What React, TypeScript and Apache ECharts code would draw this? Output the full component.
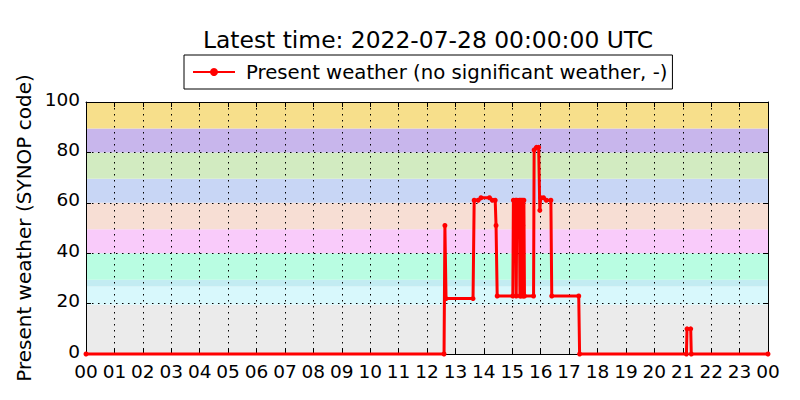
import React, { useEffect, useRef } from "react";
import * as echarts from "echarts";

const TITLE = "Latest time: 2022-07-28 00:00:00 UTC";
const SERIES_NAME = "Present weather (no significant weather, -)";
const Y_NAME = "Present weather (SYNOP code)";

// [hour of day, SYNOP present weather code]
const hours = [
  0, 12.6, 12.63, 12.67, 13.62, 13.66, 13.8, 13.9, 14.2, 14.3, 14.4, 14.43, 14.47,
  15.02, 15.04, 15.12, 15.14, 15.16, 15.25, 15.27, 15.3, 15.32, 15.35, 15.37, 15.39,
  15.41, 15.43, 15.75, 15.77, 15.85, 15.93, 15.97, 16.0, 16.1, 16.2, 16.36, 16.39,
  17.34, 17.37, 21.13, 21.15, 21.28, 21.3, 24,
];
const codes = [
  0, 0, 51, 22, 22, 61, 61, 62, 62, 61, 61, 51, 23,
  23, 61, 61, 23, 61, 61, 23, 61, 23, 61, 51, 23,
  61, 23, 23, 81, 82, 82, 57, 62, 62, 61, 61, 23,
  23, 0, 0, 10, 10, 0, 0,
];

const bandEdges = [0, 19.5, 26.8, 29.5, 40, 49.5, 60, 69.5, 80, 89.5, 100];
const bandColors = [
  "#ebebeb", "#d8f8fc", "#c3ecf2", "#b9fde2", "#f9cbfa",
  "#f7ded4", "#c8d6f5", "#d2ebc1", "#c8b6ec", "#f7df8b",
];

const FONT = "DejaVu Sans";

export default function App() {
  const ref = useRef<HTMLDivElement>(null);
  useEffect(() => {
    document.body.style.margin = "0";
    const chart = echarts.init(ref.current!, null, { renderer: "svg" });
    const data = hours.map((h, i) => [h, codes[i]]);
    const bands = bandColors.map((c, i) => [
      { yAxis: bandEdges[i], itemStyle: { color: c, opacity: 1 } },
      { yAxis: bandEdges[i + 1] },
    ]);
    const fmt = (v: number) => String(Math.round(v) % 24).padStart(2, "0");
    const tickStyle = { show: true, inside: true, length: 5, lineStyle: { color: "#000" } };
    const grid = { type: [1.5, 4.5], color: "#000", width: 1 };
    chart.setOption({
      animation: false,
      textStyle: { fontFamily: FONT },
      title: {
        text: TITLE,
        left: 423,
        textAlign: "center",
        top: 23,
        textStyle: { fontFamily: FONT, fontSize: 23.4, fontWeight: "normal", color: "#000" },
      },
      legend: {
        data: [SERIES_NAME],
        top: 55,
        left: 184,
        itemWidth: 42,
        itemHeight: 10,
        padding: [7, 5, 7, 8],
        borderColor: "#000",
        borderWidth: 1,
        borderRadius: 0,
        textStyle: { fontFamily: FONT, fontSize: 19.7, color: "#000", padding: [0, 0, 0, 6] },
      },
      grid: { left: 86, right: 32, top: 102, bottom: 46, containLabel: false },
      xAxis: [
        {
          type: "value",
          min: 0,
          max: 24,
          interval: 1,
          axisLine: { show: true, onZero: false, lineStyle: { color: "#000", width: 1 } },
          axisTick: tickStyle,
          axisLabel: {
            formatter: fmt,
            fontFamily: FONT,
            fontSize: 18.5,
            lineHeight: 18,
            color: "#000",
            margin: 8,
          },
          splitLine: { show: true, lineStyle: grid },
        },
        {
          type: "value",
          position: "top",
          min: 0,
          max: 24,
          interval: 1,
          axisLine: { show: true, onZero: false, lineStyle: { color: "#000", width: 1 } },
          axisTick: tickStyle,
          axisLabel: { show: false },
          splitLine: { show: false },
        },
      ],
      yAxis: [
        {
          type: "value",
          min: 0,
          max: 100,
          interval: 20,
          name: Y_NAME,
          nameLocation: "middle",
          nameGap: 46,
          nameTextStyle: { fontFamily: FONT, fontSize: 20, color: "#000" },
          axisLine: { show: true, onZero: false, lineStyle: { color: "#000", width: 1 } },
          axisTick: tickStyle,
          axisLabel: {
            fontFamily: FONT,
            fontSize: 18.5,
            verticalAlign: "bottom",
            lineHeight: 6,
            color: "#000",
            margin: 6,
          },
          splitLine: { show: true, lineStyle: grid },
        },
        {
          type: "value",
          position: "right",
          min: 0,
          max: 100,
          interval: 20,
          axisLine: { show: true, onZero: false, lineStyle: { color: "#000", width: 1 } },
          axisTick: tickStyle,
          axisLabel: { show: false },
          splitLine: { show: false },
        },
      ],
      series: [
        {
          type: "line",
          name: "bands",
          z: -1,
          data: [],
          silent: true,
          markArea: { silent: true, z: -1, data: bands },
        },
        {
          type: "line",
          name: SERIES_NAME,
          data,
          z: 5,
          clip: false,
          color: "#ff0000",
          symbol: "circle",
          symbolSize: 5,
          showSymbol: true,
          lineStyle: { color: "#ff0000", width: 3 },
          itemStyle: { color: "#ff0000" },
        },
      ],
    });
    return () => chart.dispose();
  }, []);
  return <div ref={ref} style={{ width: 800, height: 400 }} />;
}
